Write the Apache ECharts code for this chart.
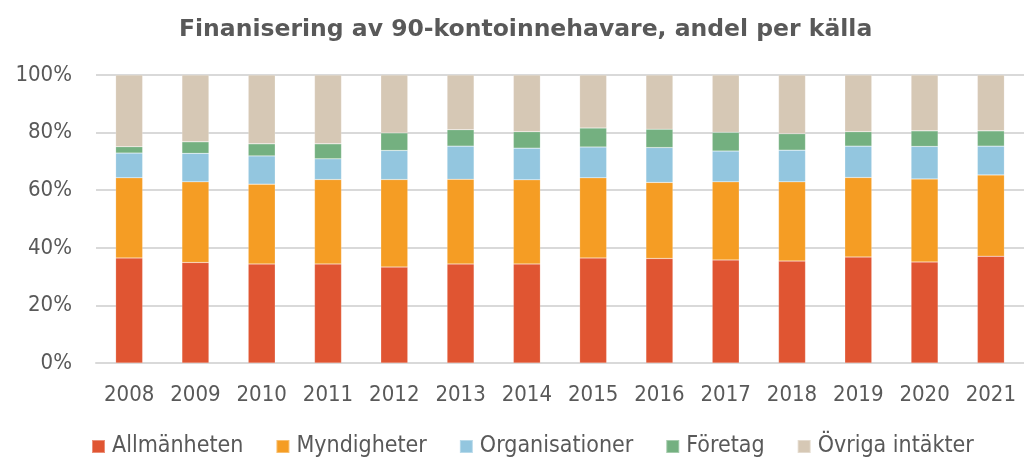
<!DOCTYPE html>
<html>
<head>
<meta charset="utf-8">
<title>Finanisering av 90-kontoinnehavare</title>
<script src="https://cdn.jsdelivr.net/npm/echarts@6/dist/echarts.min.js"></script>
<style>
  html, body { margin: 0; padding: 0; background: #fff; }
  #chart { width: 1024px; height: 460px; }
</style>
</head>
<body>
<div id="chart"></div>
<script>
var years = ['2008', '2009', '2010', '2011', '2012', '2013', '2014', '2015', '2016', '2017', '2018', '2019', '2020', '2021']
// andel i procent per källa
var allmanheten = [36.5, 34.9, 34.4, 34.4, 33.3, 34.4, 34.4, 36.5, 36.3, 35.8, 35.4, 36.8, 35.1, 37.1]
var myndigheter = [27.8, 28.0, 27.7, 29.3, 30.4, 29.4, 29.2, 27.8, 26.4, 27.1, 27.5, 27.6, 28.8, 28.2]
var organisationer = [8.6, 9.9, 9.8, 7.2, 10.1, 11.5, 11.0, 10.7, 12.1, 10.7, 11.0, 10.9, 11.3, 10.0]
var foretag = [2.2, 4.0, 4.2, 5.2, 6.1, 5.7, 5.7, 6.6, 6.4, 6.5, 5.7, 5.0, 5.4, 5.3]
var ovriga = [24.9, 23.2, 23.9, 23.9, 20.1, 19.0, 19.7, 18.4, 18.8, 19.9, 20.4, 19.7, 19.4, 19.4]

var textColor = '#595959'
var fontName = '"DejaVu Sans Condensed", "DejaVu Sans", sans-serif'

function makeSeries(name, data, color) {
  return {
    name: name,
    type: 'bar',
    stack: 'total',
    barWidth: 27,
    data: data,
    itemStyle: {
      color: color,
      borderColor: 'rgba(255,255,255,0.35)',
      borderWidth: 0.5
    }
  }
}

var chart = echarts.init(document.getElementById('chart'))

chart.setOption({
  animation: false,
  textStyle: { fontFamily: fontName },
  title: {
    text: 'Finanisering av 90-kontoinnehavare, andel per källa',
    left: 174,
    top: 13,
    textStyle: {
      fontFamily: '"DejaVu Sans", sans-serif',
      fontWeight: 'bold',
      fontSize: 23.5,
      color: textColor
    }
  },
  legend: {
    bottom: 2,
    left: 91,
    padding: 0,
    itemWidth: 13,
    itemHeight: 13,
    itemGap: 32,
    icon: 'rect',
    textStyle: {
      fontFamily: fontName,
      fontSize: 23,
      color: textColor,
      padding: [0, 0, 0, 2]
    }
  },
  grid: {
    left: 96,
    top: 75,
    width: 933,
    height: 288
  },
  xAxis: {
    type: 'category',
    data: years,
    axisTick: { show: false },
    axisLine: { lineStyle: { color: '#D9D9D9', width: 2 } },
    axisLabel: {
      color: textColor,
      fontSize: 22,
      margin: 21
    }
  },
  yAxis: {
    type: 'value',
    min: 0,
    max: 100,
    interval: 20,
    axisLine: { show: false },
    axisTick: { show: false },
    splitLine: { lineStyle: { color: '#D9D9D9', width: 2 } },
    axisLabel: {
      color: textColor,
      fontSize: 22,
      margin: 24,
      formatter: '{value}%'
    }
  },
  series: [
    makeSeries('Allmänheten', allmanheten, '#E05532'),
    makeSeries('Myndigheter', myndigheter, '#F59D24'),
    makeSeries('Organisationer', organisationer, '#93C6DF'),
    makeSeries('Företag', foretag, '#74B080'),
    makeSeries('Övriga intäkter', ovriga, '#D6C8B5')
  ]
})
</script>
</body>
</html>
